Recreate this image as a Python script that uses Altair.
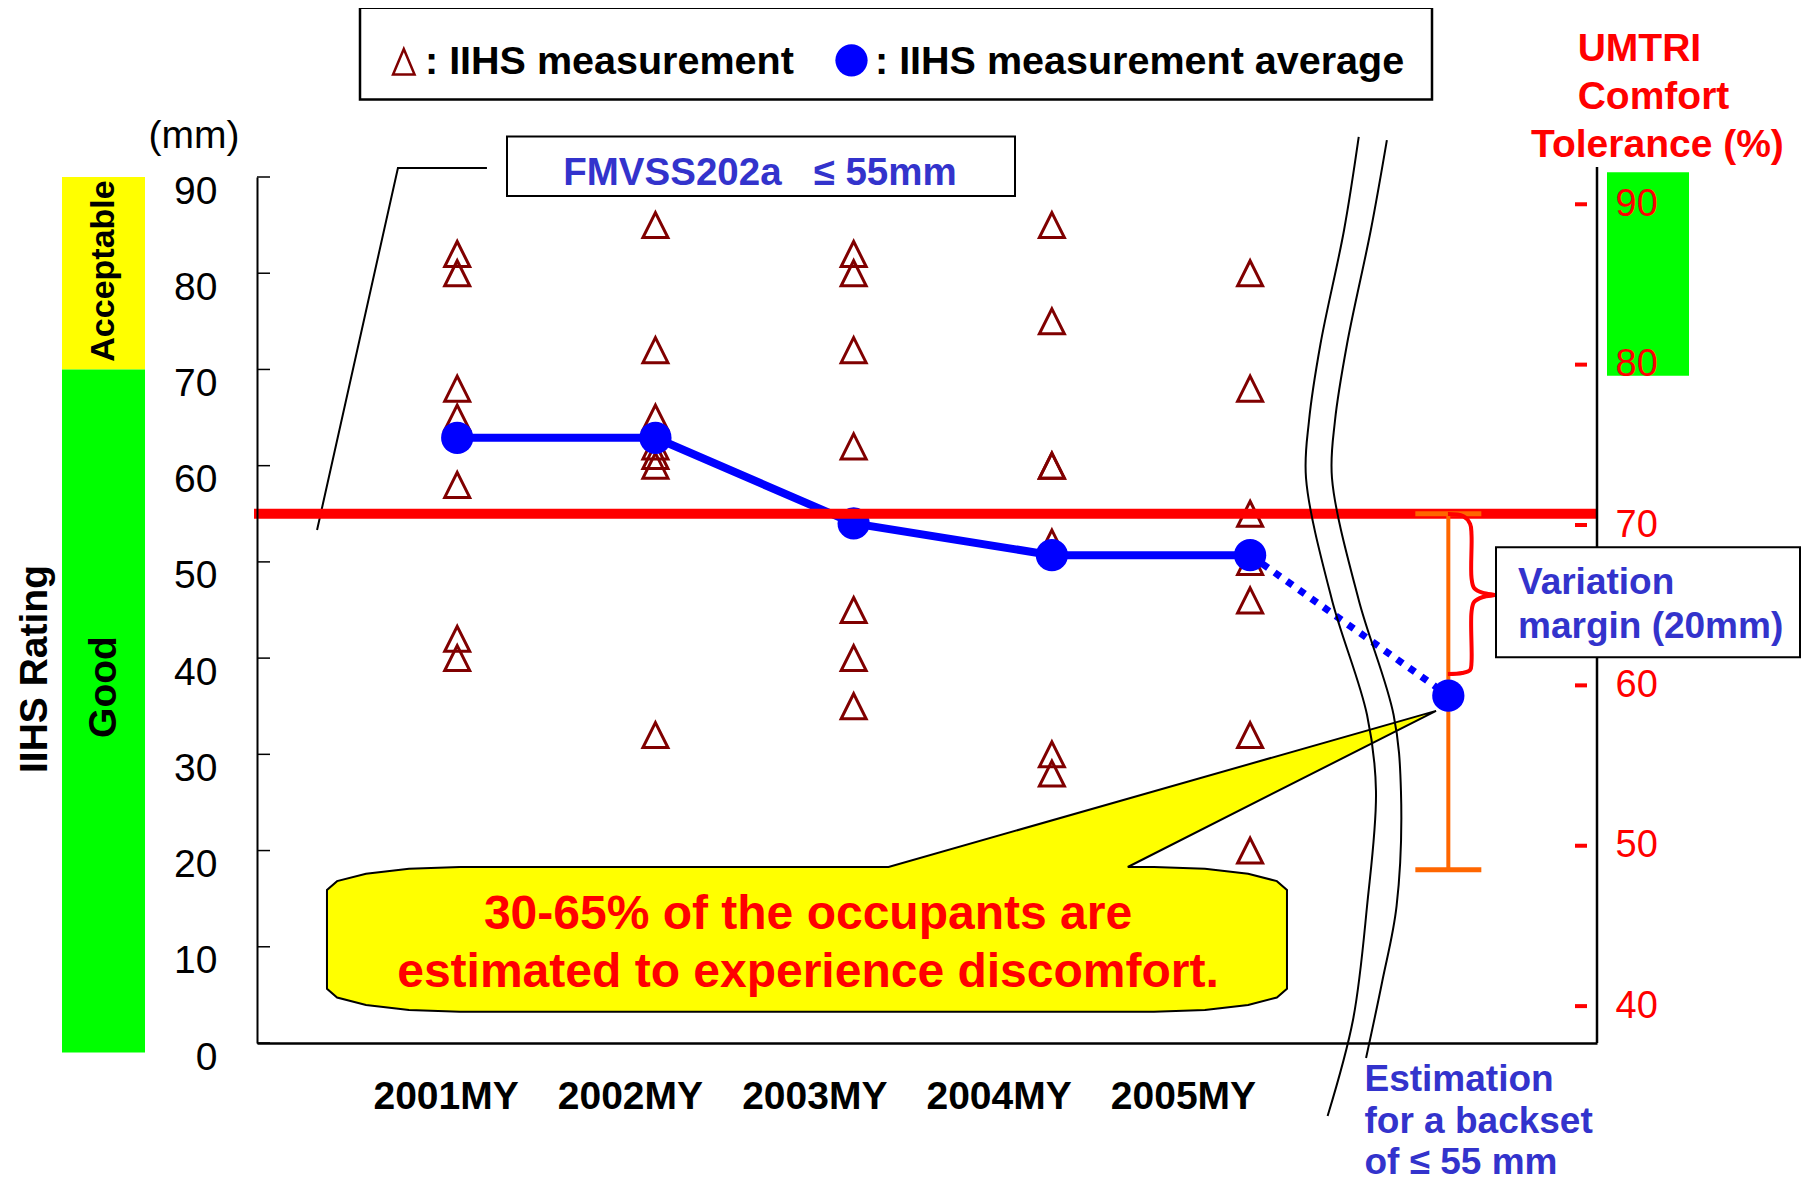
import altair as alt
import pandas as pd

# ---------------- data ----------------
categories = ["2001MY", "2002MY", "2003MY", "2004MY", "2005MY"]
meas_2001 = [82, 80, 68, 65, 58, 42, 40]
meas_2002 = [85, 72, 65, 62, 61, 60, 32]
meas_2003 = [82, 80, 72, 62, 45, 40, 35]
meas_2004 = [85, 75, 60, 60, 52, 30, 28]
meas_2005 = [80, 68, 55, 50, 46, 32, 20]
averages = [62.9, 62.9, 54.0, 50.7, 50.7]
estimate_pos = 5
estimate_value = 36.1
estimate_range = [18, 55]
fmvss_limit = 55
left_ticks = [0, 10, 20, 30, 40, 50, 60, 70, 80, 90]
right_ticks = [40, 50, 60, 70, 80, 90]
acceptable_band = [70, 90]
good_band = [-1, 70]
umtri_band = [79.3, 92]

# annotation geometry in data units (x: model-year index, y: mm)
break_left_x = [4.548, 4.474, 4.355, 4.297, 4.282, 4.413, 4.590, 4.635, 4.590, 4.519, 4.391]
break_left_y = [94.16, 84.49, 72.64, 64.64, 58.72, 46.04, 34.09, 26.19, 14.24, 2.39, -7.59]
break_right_x = [4.690, 4.609, 4.489, 4.428, 4.413, 4.548, 4.724, 4.761, 4.739, 4.666, 4.585]
break_right_y = [93.84, 84.49, 72.64, 64.64, 58.72, 46.04, 34.09, 26.19, 14.24, 6.34, -1.56]
brace_x = [4.998, 5.074, 5.110, 5.117, 5.117, 5.130, 5.175, 5.236, 5.175, 5.130, 5.117, 5.117, 5.110, 5.070, 4.998]
brace_y = [54.98, 54.77, 53.94, 52.79, 48.33, 47.29, 46.77, 46.56, 46.35, 45.83, 44.79, 39.59, 38.76, 38.45, 38.35]
balloon_x = [0.014, 2.176, 4.938, 3.383, 3.515, 3.772, 3.990, 4.135, 4.186, 4.186, 4.135, 3.990,
             3.772, 3.515, 0.014, -0.243, -0.460, -0.606, -0.657, -0.657, -0.606, -0.460, -0.243, 0.014]
balloon_y = [18.29, 18.29, 34.52, 18.29, 18.29, 18.11, 17.59, 16.82, 15.90, 5.64, 4.73, 3.95,
             3.43, 3.25, 3.25, 3.43, 3.95, 4.73, 5.64, 15.90, 16.82, 17.59, 18.11, 18.29]
leader_x = [0.150, -0.299, -0.707]
leader_y = [90.94, 90.94, 53.31]

# ---------------- tables ----------------
meas_rows = []
for k, vals in enumerate([meas_2001, meas_2002, meas_2003, meas_2004, meas_2005]):
    for v in vals:
        meas_rows.append({"i": k, "mm": v})
meas_df = pd.DataFrame(meas_rows)
avg_df = pd.DataFrame({"i": list(range(len(averages))), "mm": averages})
dot_df = pd.DataFrame({"i": [len(averages) - 1, estimate_pos], "mm": [averages[-1], estimate_value]})
est_df = pd.DataFrame({"i": [estimate_pos], "mm": [estimate_value],
                       "lo": [estimate_range[0]], "hi": [estimate_range[1]]})
cap_df = pd.DataFrame({"i": [estimate_pos, estimate_pos], "mm": estimate_range})
limit_df = pd.DataFrame({"mm": [fmvss_limit]})
lt_df = pd.DataFrame({"mm": left_ticks})
rt_df = pd.DataFrame({"pct": right_ticks})
bands_df = pd.DataFrame({"lo": [acceptable_band[0], good_band[0]],
                         "hi": [acceptable_band[1], good_band[1]],
                         "band": ["Acceptable", "Good"]})
umtri_df = pd.DataFrame({"lo": [umtri_band[0]], "hi": [umtri_band[1]]})
cat_df = pd.DataFrame({"i": list(range(len(categories))), "cat": categories})
breaks_df = pd.DataFrame(
    [{"x": a, "y": b, "k": n, "curve": "L"} for n, (a, b) in enumerate(zip(break_left_x, break_left_y))]
    + [{"x": a, "y": b, "k": n, "curve": "R"} for n, (a, b) in enumerate(zip(break_right_x, break_right_y))]
)
brace_df = pd.DataFrame({"x": brace_x, "y": brace_y, "k": list(range(len(brace_x)))})
balloon_df = pd.DataFrame({"x": balloon_x, "y": balloon_y, "k": list(range(len(balloon_x)))})
leader_df = pd.DataFrame({"x": leader_x, "y": leader_y, "k": list(range(len(leader_x)))})
dummy = pd.DataFrame({"d": [0]})

# ---------------- styling ----------------
W, H = 1340, 866
FONT = "Liberation Sans"
DARKRED = "#800000"
BLUE = "#0000FF"
RED = "#FF0000"
ORANGE = "#FF6600"
TEXTBLUE = "#3333CC"
TRI = "M0,-1L1,1L-1,1Z"

xs = alt.Scale(domain=[-1.01, 5.75], nice=False, zero=False)
ys = alt.Scale(domain=[0, 90], nice=False, zero=False)
yr = alt.Scale(domain=[37.7, 91.7], nice=False, zero=False)
xl = alt.Scale(domain=[-1.023, 6.246], nice=False, zero=False)


def X(f="i"):
    return alt.X(f"{f}:Q", scale=xs, axis=None)


def Y(f="mm"):
    return alt.Y(f"{f}:Q", scale=ys, axis=None)


def txt(s, x, y, size, color="black", weight="bold", align="center", baseline="alphabetic", angle=0):
    return alt.Chart(dummy).mark_text(
        text=s, font=FONT, fontSize=size, fontWeight=weight, color=color,
        align=align, baseline=baseline, angle=angle
    ).encode(x=alt.value(x), y=alt.value(y))


def box(x1, x2, y1, y2, sw=2):
    return alt.Chart(dummy).mark_rect(fill="white", stroke="black", strokeWidth=sw).encode(
        x=alt.value(x1), x2=alt.value(x2), y=alt.value(y1), y2=alt.value(y2))


left_axis = alt.Axis(values=left_ticks, title=None, orient="left", domainColor="black", domainWidth=2,
                     ticks=False, tickSize=0, labelFont=FONT, labelFontSize=39, labelColor="black",
                     labelPadding=40, labelOffset=14, labelBaseline="middle", grid=False,
                     labelOverlap=False, labelFlush=False, zindex=1)
right_axis = alt.Axis(values=right_ticks, title=None, orient="right", domain=False,
                      ticks=False, tickSize=0, labelFont=FONT, labelFontSize=38, labelColor=RED,
                      labelPadding=18, labelBaseline="middle", grid=False, zindex=1,
                      labelOverlap=False, labelFlush=False)
label_expr = "[" + ",".join("'%s'" % c for c in categories) + "][datum.value]"
x_axis = alt.Axis(values=list(range(len(categories))), labelExpr=label_expr, title=None, orient="bottom",
                  domainColor="black", domainWidth=2.5, ticks=False, tickSize=0, labelFont=FONT,
                  labelFontSize=39, labelFontWeight="bold", labelColor="black", labelPadding=53,
                  labelBaseline="middle", grid=False, labelOverlap=False, labelFlush=False)

# ---------------- layers ----------------
bands = alt.Chart(bands_df).mark_rect().encode(
    y=Y("lo"), y2="hi:Q", x=alt.value(-195), x2=alt.value(-112),
    color=alt.Color("band:N", scale=alt.Scale(domain=["Acceptable", "Good"], range=["#FFFF00", "#00FF00"]),
                    legend=None))
leader = alt.Chart(leader_df).mark_line(color="black", strokeWidth=2).encode(x=X("x"), y=Y("y"), order="k:Q")
fm_box = box(250, 758, -40.4, 19)
fm_text = txt("FMVSS202a\u00a0\u00a0\u00a0\u2264 55mm", 503, 7.5, 38.5, color=TEXTBLUE)
balloon = alt.Chart(balloon_df).mark_line(fill="#FFFF00", stroke="black", strokeWidth=2,
                                          interpolate="linear").encode(x=X("x"), y=Y("y"), order="k:Q")
bal_t1 = txt("30-65% of the occupants are", 551, 752.3, 48, color=RED)
bal_t2 = txt("estimated to experience discomfort.", 551, 809.7, 48, color=RED)
tri = alt.Chart(meas_df).mark_point(shape=TRI, size=625, filled=False, color=DARKRED, strokeWidth=3,
                                    opacity=1).encode(x=X(), y=Y())
avg_line = alt.Chart(avg_df).mark_line(color=BLUE, strokeWidth=8).encode(x=X(), y=Y())
dot_line = alt.Chart(dot_df).mark_line(color=BLUE, strokeWidth=7, strokeDash=[7, 8]).encode(x=X(), y=Y())
avg_pts = alt.Chart(avg_df).mark_circle(size=1040, color=BLUE, opacity=1).encode(x=X(), y=Y())
red_line = alt.Chart(limit_df).mark_rule(color=RED, strokeWidth=10).encode(
    y=Y(), x=alt.value(-3), x2=alt.value(W))
err = alt.Chart(est_df).mark_rule(color=ORANGE, strokeWidth=4).encode(x=X(), y=Y("lo"), y2="hi:Q")
caps = alt.Chart(cap_df).mark_tick(color=ORANGE, orient="horizontal", size=66, thickness=5,
                                   opacity=1).encode(x=X(), y=Y())
est_pt = alt.Chart(est_df).mark_circle(size=1040, color=BLUE, opacity=1).encode(x=X(), y=Y())
breaks = alt.Chart(breaks_df).mark_line(color="black", strokeWidth=2, interpolate="catmull-rom").encode(
    x=X("x"), y=Y("y"), order="k:Q", detail="curve:N")
brace = alt.Chart(brace_df).mark_line(color=RED, strokeWidth=4, interpolate="catmull-rom").encode(
    x=X("x"), y=Y("y"), order="k:Q")
right_line = alt.Chart(dummy).mark_rule(color="black", strokeWidth=2.5).encode(
    x=alt.value(W), y=alt.value(-10), y2=alt.value(H))
var_box = box(1239, 1543, 370.3, 480.3)
var_t1 = txt("Variation", 1261, 417, 37, color=TEXTBLUE, align="left")
var_t2 = txt("margin (20mm)", 1261, 461, 37, color=TEXTBLUE, align="left")
est_t1 = txt("Estimation", 1107.5, 914, 37, color=TEXTBLUE, align="left")
est_t2 = txt("for a backset", 1107.5, 956, 37, color=TEXTBLUE, align="left")
est_t3 = txt("of \u2264 55 mm", 1107.5, 997, 37, color=TEXTBLUE, align="left")
in_ticks = alt.Chart(lt_df).mark_rule(color="black", strokeWidth=1.5).encode(
    y=alt.Y("mm:Q", scale=ys, axis=left_axis), x=alt.value(0), x2=alt.value(13))

# outside texts
t_rating = txt("IIHS Rating", -222, 492, 39, baseline="middle", angle=270)
t_accept = txt("Acceptable", -153, 94, 34, baseline="middle", angle=270)
t_good = txt("Good", -153, 510, 39, baseline="middle", angle=270)
t_mm = txt("(mm)", -63, -41, 39, weight="normal", baseline="middle")
t_u1 = txt("UMTRI", 1320.7, -115.8, 39, color=RED, align="left")
t_u2 = txt("Comfort", 1320.7, -68, 39, color=RED, align="left")
t_u3 = txt("Tolerance (%)", 1274, -20, 39, color=RED, align="left")

# legend
leg_box = box(103, 1175, -169.3, -77.5, sw=2.5)
leg_tri = alt.Chart(dummy).mark_point(shape="M0,-1L0.84,1L-0.84,1Z", size=655, filled=False, color=DARKRED,
                                      strokeWidth=2.5, opacity=1).encode(x=alt.value(146.8), y=alt.value(-115.2))
leg_t1 = txt(": IIHS measurement", 168, -103.5, 39.5, align="left")
leg_dot = alt.Chart(dummy).mark_circle(size=1040, color=BLUE, opacity=1).encode(
    x=alt.value(594.5), y=alt.value(-116.7))
leg_t2 = txt(": IIHS measurement average", 618, -103.5, 39.5, align="left")

# right (UMTRI) axis
green_r = alt.Chart(umtri_df).mark_rect(color="#00FF00").encode(
    y=alt.Y("lo:Q", scale=yr, axis=None), y2="hi:Q", x=alt.value(1350), x2=alt.value(1432))
dashes = alt.Chart(rt_df).mark_rule(color=RED, strokeWidth=4).encode(
    y=alt.Y("pct:Q", scale=yr, axis=right_axis), x=alt.value(1318), x2=alt.value(1330))

# category labels
xlab = alt.Chart(cat_df).mark_point(opacity=0).encode(
    x=alt.X("i:Q", scale=xl, axis=x_axis), y=alt.value(0))

chart = alt.layer(
    bands, leader, fm_box, fm_text, balloon, bal_t1, bal_t2,
    tri, avg_line, dot_line, avg_pts, red_line, err, caps, est_pt,
    breaks, brace, green_r, dashes, right_line,
    var_box, var_t1, var_t2, est_t1, est_t2, est_t3, in_ticks,
    t_rating, t_accept, t_good, t_mm, t_u1, t_u2, t_u3,
    leg_box, leg_tri, leg_t1, leg_dot, leg_t2,
    xlab,
).resolve_scale(
    x="independent", y="independent"
).properties(
    width=W, height=H,
    autosize=alt.AutoSizeParams(type="none"),
    padding={"left": 249, "top": 169, "right": 207, "bottom": 140},
    background="white",
).configure_view(strokeWidth=0)

chart.save("out.html", embed_options={"renderer": "svg", "actions": False})
